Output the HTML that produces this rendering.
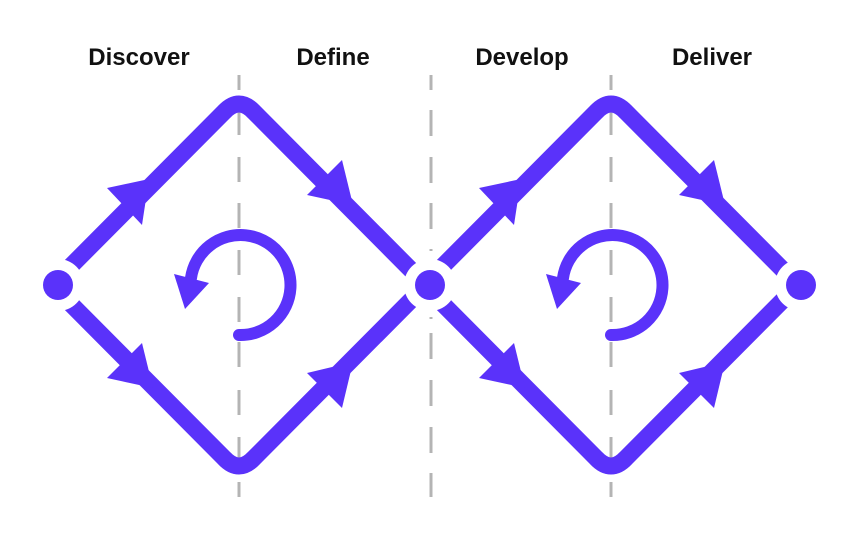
<!DOCTYPE html>
<html><head><meta charset="utf-8"><style>
html,body{margin:0;padding:0;background:#fff;}
svg{display:block;}
text{font-family:"Liberation Sans",sans-serif;font-weight:bold;font-size:24px;fill:#111;}
</style></head><body>
<svg width="864" height="540" viewBox="0 0 864 540" xmlns="http://www.w3.org/2000/svg">
<defs>
<g id="dash" stroke="#b4b4b4" stroke-width="3">
<line x1="0" y1="75" x2="0" y2="90"/>
<line x1="0" y1="110" x2="0" y2="136"/>
<line x1="0" y1="157" x2="0" y2="183"/>
<line x1="0" y1="203" x2="0" y2="229"/>
<line x1="0" y1="249" x2="0" y2="251"/>
<line x1="0" y1="317" x2="0" y2="319"/>
<line x1="0" y1="333" x2="0" y2="359"/>
<line x1="0" y1="380" x2="0" y2="406"/>
<line x1="0" y1="427" x2="0" y2="453"/>
<line x1="0" y1="473" x2="0" y2="497"/>
</g>
<g id="dash2" stroke="#b4b4b4" stroke-width="3">
<line x1="0" y1="75" x2="0" y2="90"/>
<line x1="0" y1="110" x2="0" y2="135"/>
<line x1="0" y1="157" x2="0" y2="182"/>
<line x1="0" y1="203" x2="0" y2="228"/>
<line x1="0" y1="250" x2="0" y2="275"/>
<line x1="0" y1="297" x2="0" y2="322"/>
<line x1="0" y1="342" x2="0" y2="367"/>
<line x1="0" y1="390" x2="0" y2="415"/>
<line x1="0" y1="437" x2="0" y2="462"/>
<line x1="0" y1="482" x2="0" y2="497"/>
</g>
<g id="dia">
<path d="M52,285 L224,112 Q239,96 254,112 L426,285 L254,458 Q239,474 224,458 Z" fill="none" stroke="#5a32fa" stroke-width="17" stroke-linejoin="round"/>
<polygon points="149,179 107,188 142,225" fill="#5a32fa"/>
<polygon points="342,160 307,195 353,205" fill="#5a32fa"/>
<polygon points="142,343 107,378 153,388" fill="#5a32fa"/>
<polygon points="307,373 342,408 353,362" fill="#5a32fa"/>
<path d="M239,335 A50,50 0 1 0 191,278" fill="none" stroke="#5a32fa" stroke-width="12" stroke-linecap="round"/>
<polygon points="174,274 209,283 185,309" fill="#5a32fa"/>
</g>
</defs>
<use href="#dash2" x="239"/>
<use href="#dash" x="431"/>
<use href="#dash2" x="611"/>
<use href="#dia"/>
<use href="#dia" x="372"/>
<circle cx="58" cy="285" r="26" fill="#fff"/>
<circle cx="430" cy="285" r="26" fill="#fff"/>
<circle cx="801" cy="285" r="26" fill="#fff"/>
<g stroke="#b4b4b4" stroke-width="3">
<line x1="431" y1="249" x2="431" y2="251"/>
<line x1="431" y1="317" x2="431" y2="319"/>
</g>
<circle cx="58" cy="285" r="15" fill="#5a32fa"/>
<circle cx="430" cy="285" r="15" fill="#5a32fa"/>
<circle cx="801" cy="285" r="15" fill="#5a32fa"/>
<text x="139" y="65" text-anchor="middle">Discover</text>
<text x="333" y="65" text-anchor="middle">Define</text>
<text x="522" y="65" text-anchor="middle">Develop</text>
<text x="712" y="65" text-anchor="middle">Deliver</text>
</svg>
</body></html>
